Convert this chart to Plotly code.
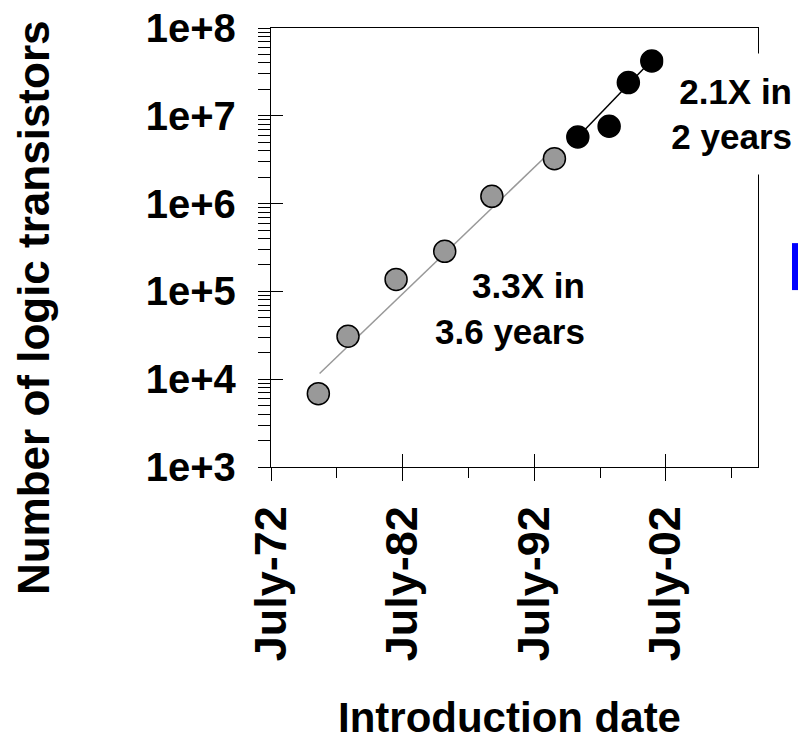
import plotly.graph_objects as go

# ---- data ----
early_dates = ["1976-02-05", "1978-05-08", "1982-01-01", "1985-09-12", "1989-04-12", "1994-01-12"]
early_counts = [6850, 30800, 137000, 286000, 1210000, 3250000]
late_dates = ["1995-10-23", "1998-03-10", "1999-08-25", "2001-06-06"]
late_counts = [5740000, 7600000, 23900000, 42100000]

early_fit_dates = ["1976-03-10", "1994-02-03"]
early_fit_counts = [11600, 4380000]
late_fit_dates = ["1995-10-23", "2001-06-30"]
late_fit_counts = [5740000, 44000000]

x_tick_vals = ["1972-07-01", "1982-07-01", "1992-07-01", "2002-07-01"]
x_tick_text = ["July-72", "July-82", "July-92", "July-02"]
x_minor_vals = ["1977-07-01", "1987-07-01", "1997-07-01", "2007-07-01"]
x_range = ["1972-07-01", "2009-07-01"]

y_tick_vals = [1e3, 1e4, 1e5, 1e6, 1e7, 1e8]
y_tick_text = ["1e+3", "1e+4", "1e+5", "1e+6", "1e+7", "1e+8"]
y_minor_vals = [k * 10 ** e for e in range(3, 8) for k in range(2, 10)]

FONT = "Liberation Sans, Arial, sans-serif"
GRAY = "#999999"

fig = go.Figure()

# invisible trace on a second, identical subplot that carries the inner half of the crossing ticks
fig.add_trace(go.Scatter(x=early_dates[:1], y=early_counts[:1], xaxis="x2", yaxis="y2", mode="markers",
                         marker=dict(opacity=0), showlegend=False, hoverinfo="skip"))

fig.add_trace(go.Scatter(x=early_fit_dates, y=early_fit_counts, mode="lines",
                         line=dict(color=GRAY, width=1.5), showlegend=False, hoverinfo="skip"))
fig.add_trace(go.Scatter(x=late_fit_dates, y=late_fit_counts, mode="lines",
                         line=dict(color="black", width=1.5), showlegend=False, hoverinfo="skip"))
fig.add_trace(go.Scatter(x=early_dates, y=early_counts, mode="markers",
                         marker=dict(size=22, color=GRAY, line=dict(color="black", width=1.5)),
                         showlegend=False))
fig.add_trace(go.Scatter(x=late_dates, y=late_counts, mode="markers",
                         marker=dict(size=22, color="black", line=dict(color="black", width=1.5)),
                         showlegend=False))

axis_line = dict(showline=True, linecolor="black", linewidth=1.3, showgrid=False, zeroline=False,
                 automargin=False)

fig.update_layout(
    width=798, height=738,
    margin=dict(l=271, r=40, t=28, b=271),
    paper_bgcolor="white", plot_bgcolor="rgba(0,0,0,0)",
    font=dict(family=FONT, color="black", weight="bold"),
    xaxis=dict(type="date", range=x_range, domain=[0, 1], anchor="y",
               tickmode="array", tickvals=x_tick_vals, ticktext=x_tick_text,
               ticks="outside", ticklen=13, tickwidth=1.3, tickcolor="black", tickangle=-90,
               tickfont=dict(size=45, family=FONT, weight="bold"), ticklabelstandoff=7,
               minor=dict(tickvals=x_minor_vals, ticks="outside", ticklen=10, tickwidth=1.3, tickcolor="black"),
               mirror=True, **axis_line),
    yaxis=dict(type="log", range=[3, 8], domain=[0, 1], anchor="x",
               tickmode="array", tickvals=y_tick_vals, ticktext=y_tick_text,
               ticks="outside", ticklen=12, tickwidth=1.3, tickcolor="black",
               tickfont=dict(size=40, family=FONT, weight="bold"), ticklabelstandoff=14,
               minor=dict(tickvals=y_minor_vals, ticks="outside", ticklen=12, tickwidth=1.3, tickcolor="black"),
               mirror=True, **axis_line),
    xaxis2=dict(type="date", range=x_range, domain=[0, 1], anchor="y2", side="bottom",
                tickmode="array", tickvals=x_tick_vals, ticks="inside", ticklen=13, tickwidth=1.3,
                tickcolor="black", showticklabels=False, showline=False, showgrid=False, zeroline=False,
                automargin=False),
    yaxis2=dict(type="log", range=[3, 8], domain=[0, 1], anchor="x2", side="left",
                tickmode="array", tickvals=y_tick_vals, ticks="inside", ticklen=12, tickwidth=1.3,
                tickcolor="black", showticklabels=False, showline=False, showgrid=False, zeroline=False,
                automargin=False),
)

fig.add_annotation(text="Number of logic transistors", textangle=-90, xref="paper", yref="paper",
                   x=-0.489, y=0.364, xanchor="center", yanchor="middle", showarrow=False,
                   font=dict(size=44, family=FONT, weight="bold"))
fig.add_annotation(text="Introduction date", xref="paper", yref="paper",
                   x=0.489, y=-0.571, xanchor="center", yanchor="middle", showarrow=False,
                   font=dict(size=42, family=FONT, weight="bold"))
fig.add_annotation(text="3.3X in<br>3.6 years", xref="paper", yref="paper", align="right",
                   x=0.649, y=0.362, xanchor="right", yanchor="middle", showarrow=False,
                   font=dict(size=35, family=FONT, weight="bold"))
fig.add_annotation(text="2.1X in<br>2 years", xref="paper", yref="paper", align="right",
                   x=1.0719, y=0.805, xanchor="right", yanchor="middle", showarrow=False,
                   width=128, height=120, valign="middle", bgcolor="white", borderpad=0,
                   font=dict(size=35, family=FONT, weight="bold"))

fig.add_shape(type="rect", xref="paper", yref="paper", x0=1.0698, x1=1.09, y0=0.403, y1=0.510,
              fillcolor="#0000FF", line=dict(width=0), layer="above")

fig.write_html("out.html")
